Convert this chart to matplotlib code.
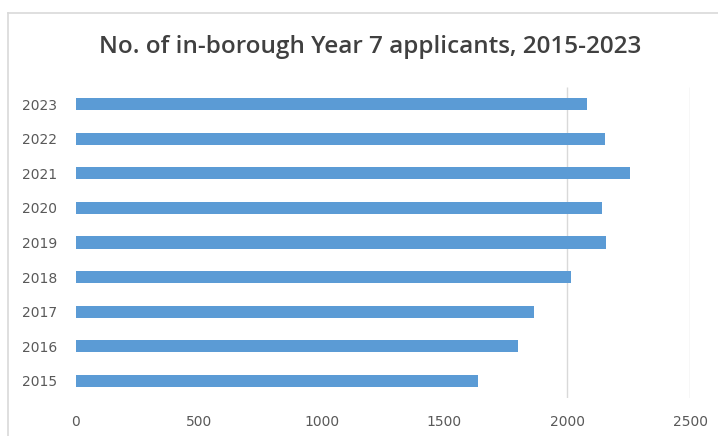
import matplotlib
matplotlib.use("Agg")
import matplotlib.pyplot as plt
from matplotlib.lines import Line2D

# in-borough Year 7 applicants per year
years = ["2015", "2016", "2017", "2018", "2019", "2020", "2021", "2022", "2023"]
applicants = [1638, 1801, 1866, 2016, 2159, 2142, 2256, 2154, 2081]
xticks = [0, 500, 1000, 1500, 2000, 2500]
grid_at = [2000, 2500]

bar_col = "#5B9BD5"
txt_col = "#595959"

fig = plt.figure(figsize=(7.18, 4.36), dpi=100)
ax = fig.add_axes([76/718, 1-398/436, (690-76)/718, (398-87)/436])

ax.barh(range(len(years)), applicants, height=0.35, color=bar_col, zorder=2)
ax.vlines(grid_at, -0.5, len(years)-0.5, color="#d9d9d9", lw=1, zorder=1)

ax.set_xlim(0, 2500)
ax.set_ylim(-0.5, len(years)-0.5)
ax.set_xticks(xticks)
ax.set_xticklabels([str(t) for t in xticks])
ax.set_yticks(range(len(years)))
ax.set_yticklabels(years)
ax.tick_params(length=0, labelsize=10, colors=txt_col)
ax.tick_params(axis="x", pad=12)
ax.tick_params(axis="y", pad=13.5)
for s in ax.spines.values():
    s.set_visible(False)

# outer chart frame (left and top edges)
fig.add_artist(Line2D([8/718, 8/718], [0, 1-13/436], color="#d9d9d9", lw=1.2,
                      transform=fig.transFigure))
fig.add_artist(Line2D([8/718, 1], [1-13/436, 1-13/436], color="#d9d9d9", lw=1.2,
                      transform=fig.transFigure))

fig.text(370/718, 1-47/436, "No. of in-borough Year 7 applicants, 2015-2023",
         ha="center", va="center", fontsize=17.5, color="#404040",
         family="Open Sans", weight="semibold")

fig.savefig("out.png", dpi=100)
